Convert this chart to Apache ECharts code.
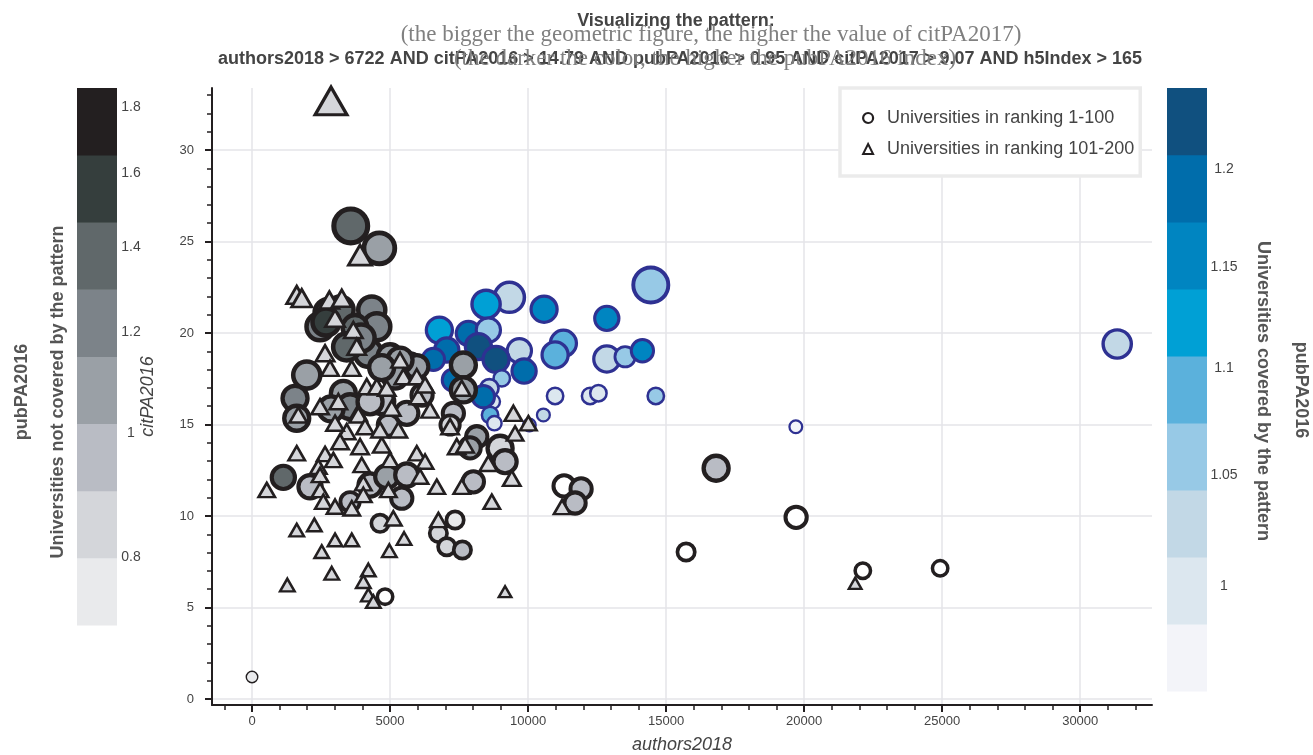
<!DOCTYPE html>
<html><head><meta charset="utf-8">
<script src="https://cdn.jsdelivr.net/npm/echarts@6/dist/echarts.min.js"></script>
<style>html,body{margin:0;padding:0;background:#fff}#c{width:1313px;height:755px}</style>
</head><body><div id="c"></div>
<script>
// ---------------- DATA ----------------
// Universities covered by the pattern (blue circles): authors2018, citPA2016, citPA2017, pubPA2016
const blueX   = [31340,14445,9322,8478,10579,12851,6786,7837,8561,11279,10978,9684,9855,8199,8840,7054,6569,12851,13514,14141,9047,8597,8721,10978,12246,12547,14626,10554,8623,10047,8779,19698,8380,7293];
const blueY   = [19.40,22.62,21.95,21.57,21.30,20.80,20.16,19.98,20.16,19.44,18.80,19.03,17.92,19.26,18.56,19.07,18.56,18.58,18.70,19.03,17.52,16.98,16.25,16.56,16.56,16.71,16.56,15.52,15.52,14.97,15.07,14.88,16.52,17.43];
const blueCit = [19.4,23.9,20.6,19.4,18.0,16.8,18.0,16.8,16.8,18.0,18.0,16.8,16.8,18.0,18.0,16.8,15.5,18.0,14.2,15.5,11.6,12.9,10.3,11.6,11.6,11.6,11.6,9.3,11.6,9.2,10.3,9.2,15.5,15.5];
const bluePub = [1.03,1.06,1.03,1.12,1.155,1.155,1.12,1.19,1.06,1.09,1.09,1.03,1.19,1.22,1.22,1.19,1.19,1.03,1.06,1.155,1.06,1.03,1.00,1.00,1.00,1.00,1.06,1.03,1.09,1.00,1.00,0.97,1.19,1.19];

// Universities in ranking 1-100 not covered (grey circles)
const greyX   = [0,3576,4612,2790,3188,4337,2464,4518,3732,4214,5000,5724,1982,1558,1619,3308,3551,4699,5605,4938,7655,7655,7293,7174,8141,7898,8985,9166,1134,2101,4275,4880,5605,5424,3551,8018,4637,7355,6750,7054,7620,4819,11304,11920,11702,16811,19709,15724,22125,24926,5967,5362,2681,3949,3429,5181,4696,2862,4275,6159];
const greyY   = [1.20,25.85,24.63,21.08,21.26,21.26,20.34,20.34,20.30,18.89,18.70,18.25,17.70,16.43,15.34,16.70,15.97,16.25,15.61,14.97,18.25,16.89,15.61,14.97,14.33,13.72,13.70,12.97,12.11,11.60,11.69,12.15,12.24,10.97,10.78,11.87,9.60,9.78,9.05,8.32,8.14,5.59,11.64,11.48,10.71,12.61,9.93,8.03,7.01,7.14,18.16,18.52,20.60,19.73,19.24,17.65,18.11,15.85,16.24,16.61];
const greyCit = [9.0,23.9,21.9,20.6,19.4,19.4,19.4,19.4,18.0,19.4,18.0,16.8,19.4,18.0,18.0,18.0,18.0,18.0,16.8,15.5,18.0,18.0,15.5,14.2,15.5,15.5,18.0,16.8,16.8,16.8,16.8,16.8,16.8,15.5,14.2,15.5,12.9,12.9,12.9,12.9,12.9,11.6,15.5,15.5,15.5,18.0,15.5,12.9,11.6,11.6,16.8,18.0,19.4,19.4,19.4,18.0,18.0,18.0,18.0,15.5];
const greyPub = [0.75,1.38,1.08,1.55,1.38,1.22,1.22,1.22,1.38,1.22,1.08,1.08,1.08,1.22,1.08,1.08,1.22,0.96,0.96,0.96,1.08,1.08,0.96,0.85,1.08,1.08,0.85,0.96,1.38,0.96,0.96,1.08,0.96,0.96,0.96,0.96,0.85,0.75,0.85,0.85,0.96,0.65,0.65,0.96,0.96,0.96,0.65,0.65,0.65,0.65,1.08,1.08,1.55,1.22,1.38,1.08,1.08,1.08,0.96,0.96];

// Universities in ranking 101-200 (triangles)
const triX   = [2862,3913,1619,1801,2801,3250,3007,3670,3793,2645,2826,3612,2464,1677,4156,4518,4880,5362,5482,5967,6025,5061,3840,3127,3851,4094,3431,3007,3188,3913,4699,4637,5300,6268,6449,7597,7174,7416,7717,8561,9467,10011,9528,9409,8685,7597,6692,1619,2645,2946,2402,2464,3974,4032,5000,5967,6268,6087,4938,4032,2464,2583,3007,3612,533,5119,6750,1619,2257,3007,3612,2525,5507,4974,2887,4213,4032,4213,4395,1279,9166,21847,11231];
const triY   = [32.68,24.26,22.08,21.90,21.80,21.90,20.80,20.16,19.25,18.89,18.07,18.07,15.97,15.52,17.07,17.07,16.98,18.52,17.61,17.61,16.52,15.89,15.63,16.25,15.52,14.88,14.61,15.07,14.06,13.79,13.88,14.70,14.70,17.16,15.79,16.98,14.88,13.79,13.88,12.87,15.61,15.07,14.51,12.06,10.78,11.60,11.60,13.43,13.39,13.06,12.69,12.24,12.79,11.79,13.06,13.43,12.97,12.15,11.42,11.15,11.42,10.78,10.51,10.42,11.42,9.87,9.78,9.23,9.51,8.69,8.69,8.05,8.77,8.10,6.87,7.05,6.41,5.68,5.32,6.23,5.86,6.32,10.49];
const triCit = [17.5,13,11.5,11.5,11,11,11,10.5,10.5,10.5,10,10,10,10,10,10,10,10,10,10,10,10,10,10,10,10,10,10,10,10,10,10,10,10,10,10,10,10,10,10,10,9.5,9.5,10,9.5,9.5,9.5,9.5,9.5,9.5,9.5,9.5,9.5,9.5,9.5,9.5,9.5,9.5,9.5,9.5,9.5,9.5,9.5,9.5,9.5,9.5,9.5,8.5,8.5,8.5,8.5,8.5,8.5,8.5,8.5,8.5,8.5,8.5,8.5,8.5,7.5,7.5,9.5];

// Colour bars (log scale), bin edges and colours, low -> high
const GREY_EDGES  = [0.7077,0.7988,0.9016,1.0176,1.1486,1.2964,1.4633,1.6516,1.864];
const GREY_COLORS = ['#e9eaec','#d4d6da','#b9bcc4','#9aa0a6','#7c8389','#60686a','#353e3d','#231f20'];
const GREY_TICKS  = [0.8,1,1.2,1.4,1.6,1.8];
const BLUE_EDGES  = [0.9554,0.9838,1.0130,1.0431,1.0741,1.1060,1.1389,1.1727,1.2076,1.2434];
const BLUE_COLORS = ['#f3f4f9','#dce7ef','#c2d8e6','#97c9e6','#5bb1dc','#00a0d5','#0085c1','#006dab','#10507f'];
const BLUE_TICKS  = [1,1.05,1.1,1.15,1.2];
const X_RANGE = [-1450, 32600];
const Y_RANGE = [-0.33, 33.39];

// ---------------- LAYOUT ----------------
const FONT = '"Liberation Sans", Arial, Helvetica, sans-serif';
const SERIF = '"Liberation Serif", "DejaVu Serif", serif';
const AX = '#231f20', LBL = '#444444', GRIDC = '#e4e4e9';
const PLOT = {l:212, r:1152, t:88, b:705};
const px = v => PLOT.l + (v - X_RANGE[0]) / (X_RANGE[1] - X_RANGE[0]) * (PLOT.r - PLOT.l);
const py = v => PLOT.b - (v - Y_RANGE[0]) / (Y_RANGE[1] - Y_RANGE[0]) * (PLOT.b - PLOT.t);
const gridX = (a, b) => ({left: px(a), width: px(b) - px(a), top: PLOT.t, height: PLOT.b - PLOT.t, outerBoundsMode: 'none'});
const gridY = (a, b) => ({left: PLOT.l, width: PLOT.r - PLOT.l, top: py(b), height: py(a) - py(b), outerBoundsMode: 'none'});

const K = 1.63;   // circle outer diameter per unit citPA2017
const TK = 2.0;   // triangle outer width per unit citPA2017
const greyBW = d => 2.0 + d * 0.08;
const blueBW = d => 1.2 + d * 0.07;
const triBW  = w => 1.8 + w * 0.04;

const blueData = blueX.map((x, i) => ({value: [x, blueY[i], blueCit[i], bluePub[i]], itemStyle: {borderWidth: blueBW(K * blueCit[i])}}));
const greyData = greyX.map((x, i) => ({value: [x, greyY[i], greyCit[i], greyPub[i]], itemStyle: {borderWidth: i === 0 ? 1.4 : greyBW(K * greyCit[i])}}));
const triData  = triX.map((x, i) => ({value: [x, triY[i], triCit[i]], itemStyle: {borderWidth: triBW(TK * triCit[i])}}));

function pieces(edges, colors, lowColor) {
  const p = [{lt: edges[0], color: lowColor}];
  colors.forEach((c, i) => p.push(i === colors.length - 1 ? {gte: edges[i], color: c} : {gte: edges[i], lt: edges[i + 1], color: c}));
  return p;
}
function colorbar(idx, edges, colors) {
  return {
    type: 'custom', xAxisIndex: idx, yAxisIndex: idx, silent: true,
    data: colors.map((c, i) => [0, edges[i], edges[i + 1]]),
    encode: {x: 0, y: [1, 2]},
    renderItem: (params, api) => {
      const a = api.coord([0, api.value(1)]);
      const b = api.coord([1, api.value(2)]);
      return {type: 'rect', shape: {x: a[0], y: b[1], width: b[0] - a[0], height: a[1] - b[1] + 0.5}, style: {fill: colors[params.dataIndex]}};
    }
  };
}
const hidden = (gi) => ({gridIndex: gi, type: 'value', show: false, min: 0, max: 1});
const noLine = {show: false, onZero: false};
const tickLbl = {show: true, fontSize: 13, color: LBL, fontFamily: FONT};

const option = {
  animation: false,
  backgroundColor: '#ffffff',
  textStyle: {fontFamily: FONT},
  grid: [
    {left: PLOT.l, top: PLOT.t, width: PLOT.r - PLOT.l, height: PLOT.b - PLOT.t, outerBoundsMode: 'none'},
    gridX(-1000, 32000),
    gridX(0, 30000),
    gridY(0, 33),
    gridY(0, 30),
    {left: 77, top: 88, width: 40, height: 537, outerBoundsMode: 'none'},
    {left: 1167, top: 88, width: 40, height: 603, outerBoundsMode: 'none'}
  ],
  xAxis: [
    {gridIndex: 0, type: 'value', min: X_RANGE[0], max: X_RANGE[1],
     axisLine: {show: true, onZero: false, lineStyle: {color: AX, width: 2}},
     axisTick: {show: false}, axisLabel: {show: false}, splitLine: {show: false},
     name: 'authors2018', nameLocation: 'middle', nameGap: 31,
     nameTextStyle: {fontStyle: 'italic', fontSize: 18, color: LBL, fontFamily: FONT}},
    {gridIndex: 1, type: 'value', min: -1000, max: 32000, interval: 1000,
     axisLine: noLine, axisTick: {show: true, length: 5, lineStyle: {color: AX, width: 1.5}},
     axisLabel: {show: false}, splitLine: {show: false}},
    {gridIndex: 2, type: 'value', min: 0, max: 30000, interval: 5000,
     axisLine: noLine, axisTick: {show: true, length: 7, lineStyle: {color: AX, width: 2}},
     axisLabel: Object.assign({margin: 10, formatter: v => String(v)}, tickLbl),
     splitLine: {show: true, lineStyle: {color: GRIDC, width: 1.5}}},
    hidden(3), hidden(4), hidden(5), hidden(6)
  ],
  yAxis: [
    {gridIndex: 0, type: 'value', min: Y_RANGE[0], max: Y_RANGE[1],
     axisLine: {show: true, onZero: false, lineStyle: {color: AX, width: 2}},
     axisTick: {show: false}, axisLabel: {show: false}, splitLine: {show: false},
     name: 'citPA2016', nameLocation: 'middle', nameGap: 55, nameRotate: 90,
     nameTextStyle: {fontStyle: 'italic', fontSize: 18, color: LBL, fontFamily: FONT}},
    hidden(1), hidden(2),
    {gridIndex: 3, type: 'value', min: 0, max: 33, interval: 1,
     axisLine: noLine, axisTick: {show: true, length: 5, lineStyle: {color: AX, width: 1.5}},
     axisLabel: {show: false}, splitLine: {show: false}},
    {gridIndex: 4, type: 'value', min: 0, max: 30, interval: 5,
     axisLine: noLine, axisTick: {show: true, length: 7, lineStyle: {color: AX, width: 2}},
     axisLabel: Object.assign({margin: 18, formatter: v => String(v)}, tickLbl),
     splitLine: {show: true, lineStyle: {color: GRIDC, width: 1.5}}},
    {gridIndex: 5, type: 'log', logBase: 10, min: GREY_EDGES[0], max: GREY_EDGES[GREY_EDGES.length - 1], position: 'right',
     axisLine: noLine,
     axisTick: {show: true, inside: true, length: 7, customValues: GREY_TICKS, lineStyle: {color: '#ffffff', width: 2}},
     axisLabel: {show: true, customValues: GREY_TICKS, align: 'center', margin: 14, fontSize: 14, color: LBL, fontFamily: FONT, formatter: v => String(+(+v).toFixed(2))},
     splitLine: {show: false}},
    {gridIndex: 6, type: 'log', logBase: 10, min: BLUE_EDGES[0], max: BLUE_EDGES[BLUE_EDGES.length - 1], position: 'right',
     axisLine: noLine,
     axisTick: {show: true, inside: true, length: 7, customValues: BLUE_TICKS, lineStyle: {color: '#ffffff', width: 2}},
     axisLabel: {show: true, customValues: BLUE_TICKS, align: 'center', margin: 17, fontSize: 14, color: LBL, fontFamily: FONT, formatter: v => String(+(+v).toFixed(2))},
     splitLine: {show: false}}
  ],
  visualMap: [
    {type: 'piecewise', show: false, seriesIndex: 3, dimension: 3, pieces: pieces(GREY_EDGES, GREY_COLORS, '#ffffff')},
    {type: 'piecewise', show: false, seriesIndex: 2, dimension: 3, pieces: pieces(BLUE_EDGES, BLUE_COLORS, '#ffffff')}
  ],
  legend: {
    show: true, orient: 'vertical', left: 840, top: 88,
    padding: [21, 6, 18, 22], itemWidth: 10, itemHeight: 10, itemGap: 13,
    selectedMode: false, backgroundColor: '#ffffff', borderColor: '#ebebeb', borderWidth: 3.5,
    textStyle: {fontSize: 18, color: LBL, fontFamily: FONT, padding: [0, 0, 0, 9]},
    data: [
      {name: 'Universities in ranking 1-100', icon: 'circle', itemStyle: {color: '#ffffff', borderColor: AX, borderWidth: 2.2}},
      {name: 'Universities in ranking 101-200', icon: 'triangle', itemStyle: {color: '#ffffff', borderColor: AX, borderWidth: 2}}
    ]
  },
  series: [
    colorbar(5, GREY_EDGES, GREY_COLORS),
    colorbar(6, BLUE_EDGES, BLUE_COLORS),
    {type: 'scatter', name: 'Universities covered by the pattern', xAxisIndex: 0, yAxisIndex: 0,
     symbol: 'circle', symbolSize: v => { const d = K * v[2]; return d - blueBW(d); },
     itemStyle: {borderColor: '#2e3192', opacity: 1}, data: blueData},
    {type: 'scatter', name: 'Universities in ranking 1-100', xAxisIndex: 0, yAxisIndex: 0,
     symbol: 'circle', symbolSize: v => { const d = K * v[2]; return d - greyBW(d); },
     itemStyle: {borderColor: AX, opacity: 1}, data: greyData},
    {type: 'scatter', name: 'Universities in ranking 101-200', xAxisIndex: 0, yAxisIndex: 0,
     symbol: 'triangle', symbolSize: v => { const w = TK * v[2] - triBW(TK * v[2]); return [w, w * 0.87]; },
     itemStyle: {color: '#d5d6da', borderColor: AX, opacity: 1}, data: triData}
  ],
  graphic: [
    {type: 'text', x: 676, y: 21, style: {text: 'Visualizing the pattern:', font: 'bold 18px ' + FONT, fill: LBL, align: 'center', verticalAlign: 'middle'}},
    {type: 'text', x: 711, y: 35, style: {text: '(the bigger the geometric figure, the higher the value of citPA2017)', font: '23px ' + SERIF, fill: '#808080', align: 'center', verticalAlign: 'middle'}},
    {type: 'text', x: 680, y: 59, style: {text: 'authors2018 > 6722 AND citPA2016 > 14.79 AND pubPA2016 > 0.95 AND citPA2017 > 9.07 AND h5Index > 165', font: 'bold 18px ' + FONT, fill: LBL, align: 'center', verticalAlign: 'middle'}},
    {type: 'text', x: 705, y: 59, style: {text: '(the darker the color, the higher the pubPA2016 index)', font: '23px ' + SERIF, fill: '#808080', align: 'center', verticalAlign: 'middle'}},
    {type: 'text', x: 22, y: 392, rotation: Math.PI / 2, style: {text: 'pubPA2016', font: 'bold 18px ' + FONT, fill: '#555555', align: 'center', verticalAlign: 'middle'}},
    {type: 'text', x: 58, y: 392, rotation: Math.PI / 2, style: {text: 'Universities not covered by the pattern', font: 'bold 18px ' + FONT, fill: '#555555', align: 'center', verticalAlign: 'middle'}},
    {type: 'text', x: 1263, y: 391, rotation: -Math.PI / 2, style: {text: 'Universities covered by the pattern', font: 'bold 18px ' + FONT, fill: '#555555', align: 'center', verticalAlign: 'middle'}},
    {type: 'text', x: 1301, y: 390, rotation: -Math.PI / 2, style: {text: 'pubPA2016', font: 'bold 18px ' + FONT, fill: '#555555', align: 'center', verticalAlign: 'middle'}}
  ]
};
const chart = echarts.init(document.getElementById('c'), null, {renderer: 'canvas'});
chart.setOption(option);
</script>
</body></html>
